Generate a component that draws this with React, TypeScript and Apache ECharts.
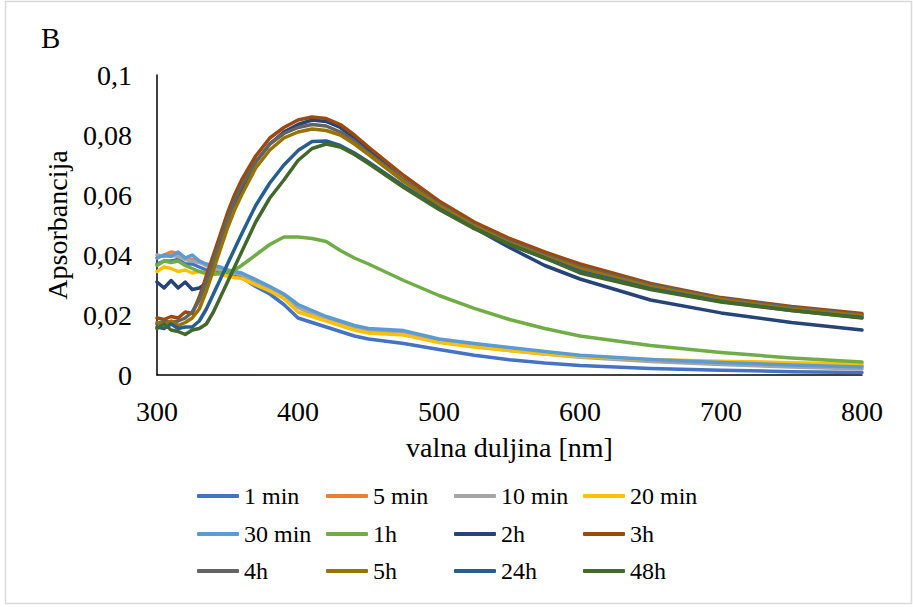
import React, { useEffect, useRef } from "react";
import * as echarts from "echarts";

const wavelengths = [300, 305, 310, 315, 320, 325, 330, 335, 340, 345, 350, 355, 360, 370, 380, 390, 400, 410, 420, 430, 440, 450, 475, 500, 525, 550, 575, 600, 650, 700, 750, 800];

const seriesNames = ["1 min", "5 min", "10 min", "20 min", "30 min", "1h", "2h", "3h", "4h", "5h", "24h", "48h"];
const seriesColors = ["#4472C4", "#ED7D31", "#A5A5A5", "#FFC000", "#5B9BD5", "#70AD47", "#264478", "#9E480E", "#636363", "#997300", "#255E91", "#43682B"];

const min1 = [0.037, 0.038, 0.038, 0.0385, 0.037, 0.037, 0.036, 0.035, 0.035, 0.034, 0.034, 0.033, 0.0325, 0.0295, 0.027, 0.0235, 0.019, 0.0175, 0.016, 0.0145, 0.013, 0.012, 0.0105, 0.0085, 0.0066, 0.0051, 0.004, 0.0032, 0.0022, 0.0016, 0.0011, 0.0008];
const min5 = [0.039, 0.040, 0.041, 0.0405, 0.039, 0.0385, 0.038, 0.0365, 0.036, 0.0355, 0.035, 0.034, 0.0335, 0.031, 0.029, 0.0262, 0.0228, 0.0205, 0.0187, 0.0172, 0.0158, 0.0148, 0.0138, 0.0113, 0.0098, 0.0086, 0.0074, 0.0063, 0.005, 0.0041, 0.0034, 0.003];
const min10 = [0.040, 0.0395, 0.040, 0.0395, 0.0385, 0.038, 0.0375, 0.0365, 0.0355, 0.035, 0.0345, 0.034, 0.0335, 0.031, 0.0288, 0.026, 0.0225, 0.0203, 0.0185, 0.017, 0.0156, 0.0146, 0.0136, 0.0111, 0.0095, 0.0082, 0.007, 0.0059, 0.0045, 0.0035, 0.0027, 0.002];
const min20 = [0.0345, 0.036, 0.0355, 0.0345, 0.035, 0.034, 0.0345, 0.0335, 0.034, 0.0335, 0.033, 0.0325, 0.0322, 0.030, 0.028, 0.0255, 0.021, 0.0195, 0.018, 0.0165, 0.015, 0.014, 0.0133, 0.0108, 0.0093, 0.0082, 0.007, 0.0062, 0.0052, 0.0046, 0.0041, 0.0037];
const min30 = [0.039, 0.040, 0.0395, 0.041, 0.039, 0.040, 0.038, 0.037, 0.0365, 0.036, 0.035, 0.0345, 0.034, 0.0318, 0.0295, 0.027, 0.0235, 0.0215, 0.0195, 0.018, 0.0165, 0.0155, 0.0148, 0.012, 0.0105, 0.0092, 0.0078, 0.0066, 0.0052, 0.0042, 0.0033, 0.0027];
const h1 = [0.0365, 0.038, 0.0375, 0.038, 0.0365, 0.0355, 0.0345, 0.034, 0.0335, 0.034, 0.0345, 0.035, 0.0365, 0.040, 0.0435, 0.046, 0.046, 0.0455, 0.0445, 0.0415, 0.039, 0.037, 0.0315, 0.0265, 0.0222, 0.0185, 0.0155, 0.013, 0.0098, 0.0075, 0.0057, 0.0043];
const h2 = [0.031, 0.029, 0.0315, 0.029, 0.031, 0.0285, 0.029, 0.0305, 0.036, 0.043, 0.050, 0.057, 0.062, 0.071, 0.077, 0.081, 0.0835, 0.085, 0.0845, 0.0825, 0.079, 0.075, 0.065, 0.0565, 0.049, 0.0425, 0.0365, 0.032, 0.025, 0.0207, 0.0175, 0.015];
const h3 = [0.019, 0.0185, 0.0195, 0.019, 0.021, 0.0205, 0.026, 0.033, 0.040, 0.047, 0.054, 0.060, 0.065, 0.073, 0.079, 0.0825, 0.085, 0.086, 0.0855, 0.0835, 0.080, 0.076, 0.0665, 0.058, 0.051, 0.0455, 0.041, 0.037, 0.0305, 0.0258, 0.0228, 0.0205];
const h4 = [0.017, 0.018, 0.0175, 0.018, 0.019, 0.021, 0.025, 0.031, 0.038, 0.045, 0.052, 0.058, 0.063, 0.071, 0.077, 0.0805, 0.0825, 0.0835, 0.083, 0.081, 0.078, 0.074, 0.065, 0.057, 0.050, 0.0445, 0.040, 0.036, 0.030, 0.0255, 0.0225, 0.020];
const h5 = [0.0175, 0.017, 0.018, 0.0165, 0.0175, 0.019, 0.022, 0.028, 0.035, 0.042, 0.049, 0.055, 0.060, 0.069, 0.075, 0.079, 0.081, 0.082, 0.0815, 0.080, 0.077, 0.0735, 0.0645, 0.0565, 0.0497, 0.044, 0.0395, 0.0355, 0.0295, 0.0252, 0.022, 0.0198];
const h24 = [0.016, 0.0155, 0.017, 0.0155, 0.016, 0.016, 0.018, 0.022, 0.027, 0.032, 0.037, 0.042, 0.047, 0.0565, 0.064, 0.070, 0.0748, 0.0778, 0.078, 0.0765, 0.074, 0.071, 0.063, 0.0555, 0.049, 0.0435, 0.039, 0.0345, 0.0288, 0.0245, 0.0215, 0.0192];
const h48 = [0.0155, 0.017, 0.015, 0.0145, 0.0135, 0.015, 0.0155, 0.017, 0.021, 0.026, 0.031, 0.036, 0.041, 0.051, 0.059, 0.065, 0.0715, 0.0755, 0.077, 0.076, 0.0735, 0.0705, 0.0625, 0.0552, 0.0488, 0.0435, 0.039, 0.034, 0.0285, 0.0243, 0.0215, 0.019];

const seriesValues = [min1, min5, min10, min20, min30, h1, h2, h3, h4, h5, h24, h48];

const xTicks = { min: 300, max: 800, interval: 100 };
const yTicks = { min: 0, max: 0.1, interval: 0.02 };

const FONT = "Liberation Serif";
const legendCols = [197, 326, 454, 583];
const legendRows = [497, 535, 572];

export default function App() {
  const ref = useRef<HTMLDivElement>(null);
  useEffect(() => {
    if (!ref.current) return;
    const chart = echarts.init(ref.current, null, { renderer: "svg" });
    const fmtY = (v: number) => {
      const s = String(Number(v.toFixed(3)));
      return s.replace(".", ",");
    };
    const legendText = { fontFamily: FONT, fontSize: 24, color: "#000" };
    chart.setOption({
      animation: false,
      backgroundColor: "#ffffff",
      textStyle: { fontFamily: FONT },
      grid: { left: 157, right: 51, top: 75, bottom: 232, containLabel: false },
      xAxis: {
        type: "value",
        min: xTicks.min,
        max: xTicks.max,
        interval: xTicks.interval,
        name: "valna duljina [nm]",
        nameLocation: "middle",
        nameGap: 58,
        nameTextStyle: { fontFamily: FONT, fontSize: 28, color: "#000" },
        axisLine: { show: true, lineStyle: { color: "#000", width: 1.5 } },
        axisTick: { show: false },
        splitLine: { show: false },
        axisLabel: { fontFamily: FONT, fontSize: 28, color: "#000", margin: 22 },
      },
      yAxis: {
        type: "value",
        min: yTicks.min,
        max: yTicks.max,
        interval: yTicks.interval,
        name: "Apsorbancija",
        nameLocation: "middle",
        nameGap: 86,
        nameTextStyle: { fontFamily: FONT, fontSize: 28, color: "#000" },
        axisLine: { show: true, lineStyle: { color: "#000", width: 1.5 } },
        axisTick: { show: false },
        splitLine: { show: false },
        axisLabel: { fontFamily: FONT, fontSize: 28, color: "#000", margin: 25, formatter: fmtY },
      },
      legend: seriesNames.map((n, i) => ({
        data: [{ name: n, textStyle: legendText }],
        left: legendCols[i % 4],
        top: legendRows[Math.floor(i / 4)] - 13,
        padding: 0,
        itemWidth: 42,
        itemHeight: 4,
        icon: "roundRect",
        selectedMode: false,
        textStyle: legendText,
      })),
      graphic: [
        {
          type: "rect",
          shape: { x: 5.5, y: 1.5, width: 906, height: 602 },
          style: { fill: "none", stroke: "#d9d9d9", lineWidth: 1.5 },
          silent: true,
        },
        {
          type: "text",
          left: 41,
          top: 23,
          style: { text: "B", fontFamily: FONT, fontSize: 29, fill: "#000" },
        },
      ],
      series: seriesNames.map((n, i) => ({
        name: n,
        type: "line",
        data: wavelengths.map((w, j) => [w, seriesValues[i][j]]),
        showSymbol: false,
        smooth: false,
        lineStyle: { width: 3.5, color: seriesColors[i], cap: "round", join: "round" },
        itemStyle: { color: seriesColors[i] },
        emphasis: { disabled: true },
      })),
    });
    return () => chart.dispose();
  }, []);
  return (
    <div
      ref={ref}
      style={{ position: "fixed", left: 0, top: 0, width: 913, height: 607, background: "#fff" }}
    />
  );
}
